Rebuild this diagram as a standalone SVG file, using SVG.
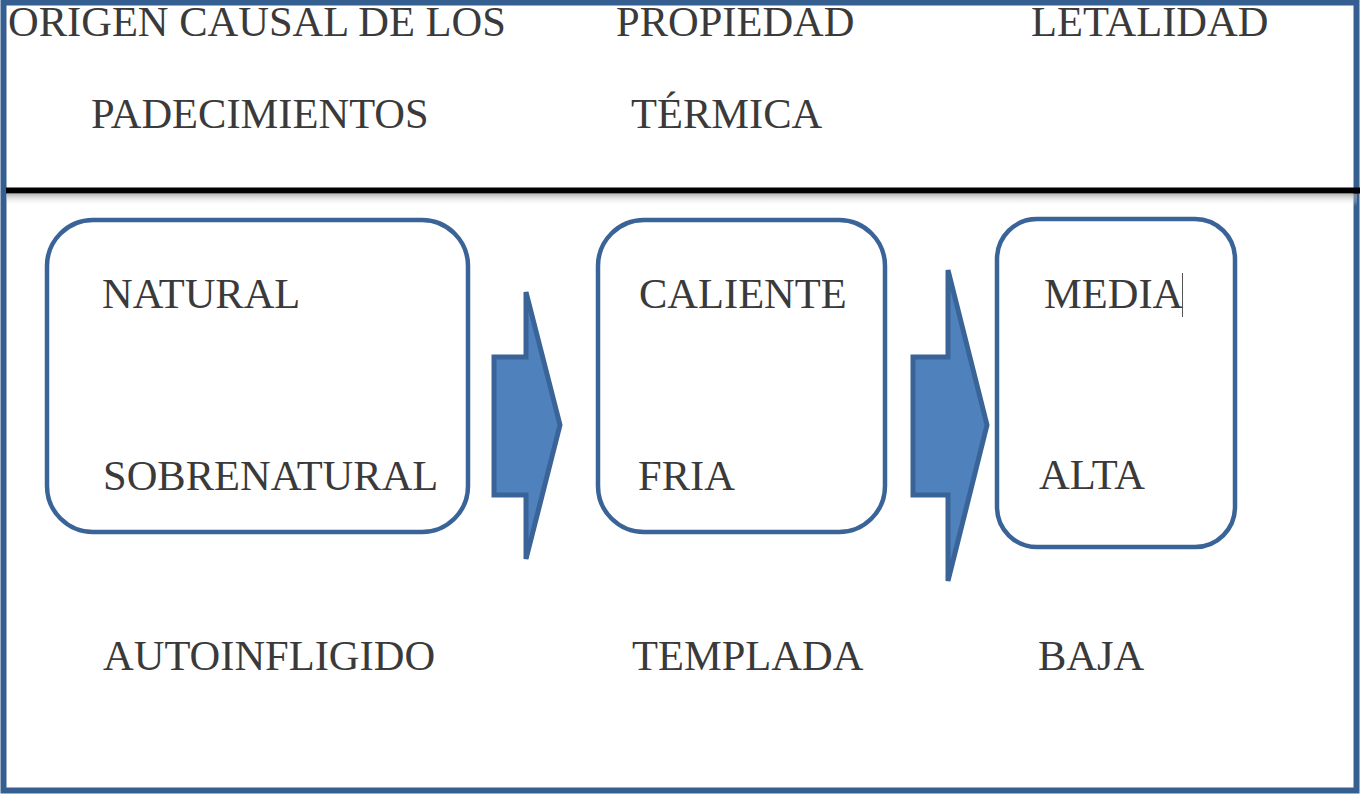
<svg xmlns="http://www.w3.org/2000/svg" width="1360" height="794" viewBox="0 0 1360 794">
<style>
text{font-family:"Liberation Serif","Times New Roman",serif;font-size:42.5px;fill:#3a3a3a}
.box{fill:#fff;stroke:#3a6497;stroke-width:4.5}
.arrow{fill:#4f81bd;stroke:#3a6497;stroke-width:5;stroke-linejoin:miter}
</style>
<defs>
<linearGradient id="sh" x1="0" y1="0" x2="0" y2="1">
<stop offset="0" stop-color="#9a9a9a" stop-opacity="0.7"/>
<stop offset="1" stop-color="#ffffff" stop-opacity="0"/>
</linearGradient>
</defs>
<rect x="0" y="0" width="1360" height="794" fill="#fff"/>
<rect x="3.5" y="2.5" width="1353" height="788" fill="none" stroke="#365f91" stroke-width="6"/>
<rect x="7" y="194" width="1350" height="12" fill="url(#sh)"/>
<line x1="6" y1="190.5" x2="1360" y2="190.5" stroke="#000" stroke-width="6"/>
<g id="headers">
<text x="8" y="36">ORIGEN CAUSAL DE LOS</text>
<text x="91" y="128">PADECIMIENTOS</text>
<text x="616" y="36">PROPIEDAD</text>
<text x="631" y="128">TÉRMICA</text>
<text x="1031" y="36">LETALIDAD</text>
</g>
<g id="node-origen">
<rect class="box" x="47" y="220" width="421" height="312" rx="46"/>
<text x="102" y="308">NATURAL</text>
<text x="103" y="490">SOBRENATURAL</text>
</g>
<g id="node-propiedad">
<rect class="box" x="598" y="220" width="287" height="312" rx="46"/>
<text x="639" y="308">CALIENTE</text>
<text x="638" y="490">FRIA</text>
</g>
<g id="node-letalidad">
<rect class="box" x="997" y="219" width="238" height="328" rx="40"/>
<text x="1044" y="308">MEDIA</text>
<line x1="1182.5" y1="273" x2="1182.5" y2="317" stroke="#555" stroke-width="1"/>
<text x="1039" y="489">ALTA</text>
</g>
<g id="outside">
<text x="103" y="670">AUTOINFLIGIDO</text>
<text x="632" y="670">TEMPLADA</text>
<text x="1038" y="670">BAJA</text>
</g>
<g id="connectors">
<polygon class="arrow" points="494,357 526,357 526,292 560,425 526,559 526,495 494,495"/>
<polygon class="arrow" points="913,357 948,357 948,270 987,425 948,581 948,495 913,495"/>
</g>
</svg>
